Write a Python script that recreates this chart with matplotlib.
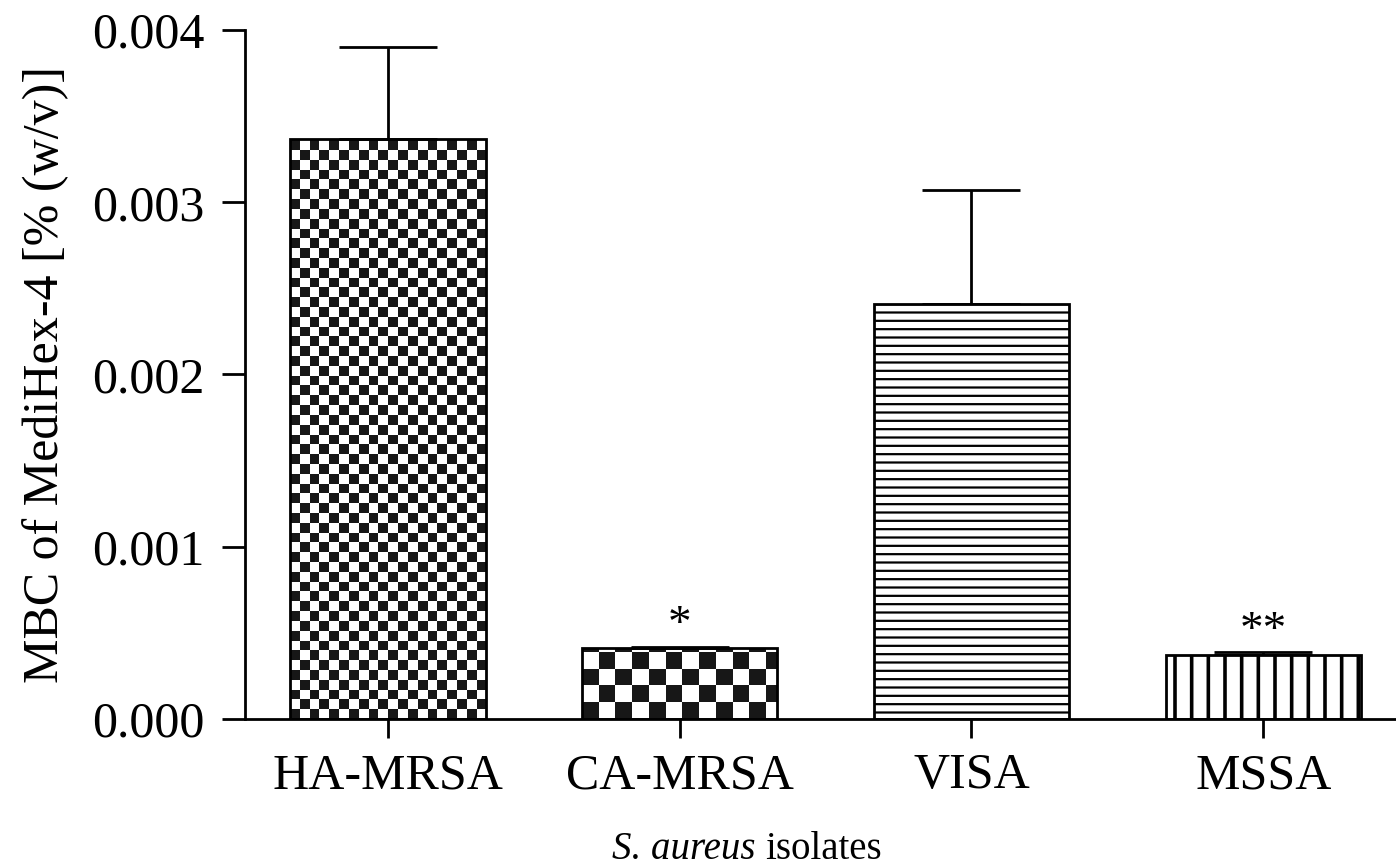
import numpy as np
import matplotlib
matplotlib.use("Agg")
import matplotlib.pyplot as plt
from matplotlib.offsetbox import TextArea, HPacker, AnnotationBbox

# 数据
isolates = ["HA-MRSA", "CA-MRSA", "VISA", "MSSA"]
mbc_mean = [0.00337, 0.00041, 0.00241, 0.000374]
mbc_sd = [0.00053, 0.00001, 0.00066, 0.000012]
stars = ["", "*", "", "**"]
y_ticks = [0.000, 0.001, 0.002, 0.003, 0.004]

plt.rcParams["font.family"] = ["Liberation Serif", "DejaVu Serif"]
plt.rcParams["hatch.color"] = "black"
plt.rcParams["hatch.linewidth"] = 1.8

fig = plt.figure(figsize=(13.96, 8.68), dpi=100)
ax = fig.add_axes([0.1755, 0.1717, 0.8245, 0.7937])
x = np.arange(len(isolates))
ax.set_xlim(-0.49, 3.455)
ax.set_ylim(0, 0.004)

# 填充方式：checker = 棋盘格（像素边长），hatch = (样式, 线宽)
fills = [("checker", 9.8), ("checker", 16.7), ("hatch", ("--", 1.6)), ("hatch", ("|", 2.6))]

bars = []
for xi, m, (kind, arg) in zip(x, mbc_mean, fills):
    hlw = arg[1] if kind == "hatch" else 1.8
    with plt.rc_context({"hatch.linewidth": hlw}):
        b = ax.bar(xi, m, width=0.67, facecolor="white", edgecolor="black",
                   linewidth=2.0, zorder=2)[0]
    bars.append(b)

inv = ax.transData.inverted()
for bar, (kind, arg) in zip(bars, fills):
    if kind == "hatch":
        bar.set_hatch(arg[0])
        if hasattr(bar, "set_hatch_linewidth"):
            bar.set_hatch_linewidth(arg[1])
        continue
    bar.set_facecolor("none")
    # 像素尺寸 -> 数据尺寸
    p0 = inv.transform((0, 0))
    p1 = inv.transform((arg, arg))
    dx, dy = p1 - p0
    x0, w, h = bar.get_x(), bar.get_width(), bar.get_height()
    nc = int(np.ceil(w / dx)) + 1
    nr = int(np.ceil(h / dy)) + 1
    cb = (np.add.outer(np.arange(nr), np.arange(nc)) % 2 == 0).astype(float)
    im = ax.imshow(cb, cmap="gray_r", vmin=0, vmax=1.1, origin="lower",
                   extent=(x0, x0 + nc * dx, 0, nr * dy), aspect="auto",
                   interpolation="nearest", zorder=1.5)
    im.set_clip_path(bar)

ax.errorbar(x, mbc_mean, yerr=[np.zeros(len(x)), mbc_sd], fmt="none",
            ecolor="black", elinewidth=2.0, capsize=35, capthick=2.0, zorder=1.8)

for xi, m, s, st in zip(x, mbc_mean, mbc_sd, stars):
    if st:
        ax.annotate(st, (xi, m + s), xytext=(0, 7), textcoords="offset points",
                    ha="center", va="baseline", fontsize=34)

ax.set_yticks(y_ticks)
ax.set_yticklabels([f"{v:.3f}" for v in y_ticks])
ax.set_xticks(x)
ax.set_xticklabels(isolates)
ax.tick_params(axis="y", labelsize=36, length=16.5, width=2.0, pad=13)
ax.tick_params(axis="x", labelsize=36, length=13.5, width=2.0, pad=11)
for side in ["top", "right"]:
    ax.spines[side].set_visible(False)
for side in ["left", "bottom"]:
    ax.spines[side].set_linewidth(2.0)

ax.set_ylabel("MBC of MediHex-4 [% (w/v)]", fontsize=36, labelpad=16)

# x 轴标题：斜体物种名 + 正体
lab = HPacker(children=[TextArea("S. aureus", textprops=dict(style="italic", fontsize=28)),
                        TextArea("isolates", textprops=dict(fontsize=28))],
              sep=7, pad=0, align="baseline")
ab = AnnotationBbox(lab, (0.436, -0.19), xycoords="axes fraction",
                    box_alignment=(0.5, 0.5), frameon=False, annotation_clip=False)
ax.add_artist(ab)

fig.savefig("out.png", dpi=100)
